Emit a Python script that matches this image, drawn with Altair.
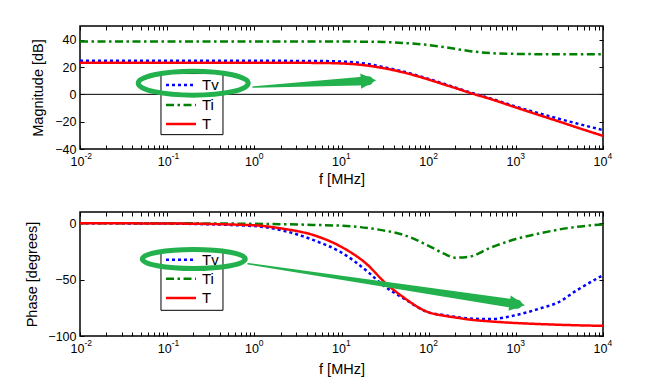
import altair as alt
import pandas as pd

# ---------------- data ----------------
FREQ = [0.01, 0.1, 1, 2, 5, 10, 20, 30, 50, 100, 150, 200, 300, 500,
        1000, 2000, 3000, 5000, 10000]  # MHz

MAG_TV = [24.6, 24.6, 24.6, 24.5, 24.4, 24.0, 22.2, 20.0, 16.8, 11.3, 7.7,
          5.1, 1.4, -2.8, -9.0, -14.5, -17.6, -21.3, -26.2]
MAG_TI = [38.6, 38.6, 38.6, 38.6, 38.6, 38.6, 38.5, 38.3, 37.6, 36.1, 34.6,
          33.3, 31.6, 30.2, 29.6, 29.4, 29.4, 29.3, 29.3]
MAG_T = [23.2, 23.2, 23.2, 23.1, 23.0, 22.6, 21.0, 19.2, 16.2, 10.8, 7.2,
         4.7, 1.0, -3.2, -9.6, -15.9, -19.5, -24.2, -30.4]

PH_TV = [0, -0.3, -2.5, -6, -15.5, -26, -43, -55, -66, -79, -81.5, -83,
         -84.5, -85, -81.5, -75, -70.5, -59.5, -46]
PH_TI = [0, 0, -0.5, -0.8, -1.5, -2.2, -4.2, -6.3, -10, -20, -27, -30.5,
         -29.5, -22, -14, -8.5, -5.8, -3.2, -1]
PH_T = [0, -0.2, -1.8, -4.5, -11, -21, -37, -51, -65, -79, -82, -83.5,
        -85.5, -87, -88.5, -89.5, -90, -90.5, -91]

SERIES = ["Tv", "Ti", "T"]
COLORS = ["#0000ff", "#008000", "#ff0000"]
DASHES = [[3, 3], [8, 3.5, 2.5, 3.5], [1, 0]]

X_MAJOR = [0.01, 0.1, 1, 10, 100, 1000, 10000]
X_EXP = ["-2", "-1", "0", "1", "2", "3", "4"]
X_MINOR = [m * d for d in [0.01, 0.1, 1, 10, 100, 1000] for m in range(2, 10)]
X_TICKS = X_MAJOR + X_MINOR
MAG_TICKS = [-40, -20, 0, 20, 40]
PH_TICKS = [-100, -50, 0]

# annotation anchors (in data units: MHz, dB / degrees)
LEG_X = [0.0849, 0.4368]          # legend box left / right
LEG_LINE_X = [0.0970, 0.2141]     # sample line start / end
LEG_TEXT_X = 0.2509
MAG_LEG_BOX = [15.2, -29.5]
MAG_LEG_ROWS = [6.8, -7.8, -21.7]
PH_LEG_BOX = [-24.6, -77.2]
PH_LEG_ROWS = [-32.3, -49.2, -66.3]

GREEN = "#22B14C"
MAG_ELLIPSE = (0.199, 8.15)
PH_ELLIPSE = (0.202, -31.7)
MAG_ARROW_F = [0.965, 20.4]
MAG_ARROW_V = [5.37, 9.98]
MAG_HEAD = (20.4, 9.98)
PH_ARROW_F = [0.846, 1039]
PH_ARROW_V = [-35.9, -71.8]
PH_HEAD = (1039, -71.8)

# ---------------- helpers ----------------
FONT = "Liberation Sans"
TICK = 4
LABEL_SIZE = 12.5
TITLE_SIZE = 14.5


def is_major(v):
    return f"abs(datum.value - {v}) < {v * 1e-6}"


base_expr = " : ".join(f"{is_major(v)} ? '10'" for v in X_MAJOR) + " : ''"
exp_expr = " : ".join(f"{is_major(v)} ? '{e}'" for v, e in zip(X_MAJOR, X_EXP)) + " : ''"

x_scale = alt.Scale(type="log", domain=[0.01, 10000], nice=False)
color_scale = alt.Scale(domain=SERIES, range=COLORS)
dash_scale = alt.Scale(domain=SERIES, range=DASHES)


def bottom_axis(title_pad):
    return alt.Axis(orient="bottom", values=X_TICKS, labelExpr=base_expr,
                    offset=-TICK, tickSize=TICK, domain=False, grid=False,
                    title="f [MHz]", labelFlush=False, labelOverlap=False,
                    labelAlign="right", labelBaseline="alphabetic",
                    labelOffset=4, labelPadding=16, titlePadding=title_pad)


def exp_axis():
    return alt.Axis(orient="bottom", values=X_MAJOR, labelExpr=exp_expr,
                    offset=-TICK, tickSize=TICK, tickOpacity=0, domain=False,
                    grid=False, title=None, labelFlush=False, labelOverlap=False,
                    labelAlign="left", labelBaseline="alphabetic",
                    labelOffset=4, labelPadding=9, labelFontSize=8.5)


def top_axis():
    return alt.Axis(orient="top", values=X_TICKS, labels=False, offset=-TICK,
                    tickSize=TICK, domain=False, grid=False, title=None)


def left_axis(title, vals, tp):
    return alt.Axis(orient="left", values=vals, offset=-TICK, tickSize=TICK,
                    domain=False, grid=False, title=title, labelPadding=4,
                    titlePadding=tp)


def right_axis(vals):
    return alt.Axis(orient="right", values=vals, labels=False, offset=-TICK,
                    tickSize=TICK, domain=False, grid=False, title=None)


def panel(vals, yscale, yticks, ytitle, tp, box, rows, ell, ell_size, ell_ratio,
          arrow_f, arrow_v, head, head_angle, zero_line, h, xtp):
    curves = pd.DataFrame({
        "f": FREQ * 3,
        "v": vals[0] + vals[1] + vals[2],
        "series": sum([[s] * len(FREQ) for s in SERIES], []),
    })
    layers = []
    if zero_line:
        layers.append(
            alt.Chart(pd.DataFrame({"v": [0]})).mark_rule(color="black", strokeWidth=1)
            .encode(y=alt.Y("v:Q", scale=yscale, axis=None))
        )
    layers.append(
        alt.Chart(curves).mark_line(strokeWidth=2.5, interpolate="monotone")
        .encode(
            x=alt.X("f:Q", scale=x_scale, axis=bottom_axis(xtp)),
            y=alt.Y("v:Q", scale=yscale, axis=left_axis(ytitle, yticks, tp)),
            color=alt.Color("series:N", scale=color_scale, legend=None),
            strokeDash=alt.StrokeDash("series:N", scale=dash_scale, legend=None),
            detail="series:N",
        )
    )
    box_df = pd.DataFrame({"x0": [LEG_X[0]], "x1": [LEG_X[1]],
                           "y0": [box[0]], "y1": [box[1]]})
    layers.append(
        alt.Chart(box_df).mark_rect(fill="white", stroke="black", strokeWidth=1)
        .encode(
            x=alt.X("x0:Q", scale=x_scale, axis=top_axis()),
            x2="x1:Q",
            y=alt.Y("y0:Q", scale=yscale, axis=right_axis(yticks)),
            y2="y1:Q",
        )
    )
    leg = pd.DataFrame({"series": SERIES, "y": rows,
                        "xa": [LEG_LINE_X[0]] * 3, "xb": [LEG_LINE_X[1]] * 3,
                        "xt": [LEG_TEXT_X] * 3})
    layers.append(
        alt.Chart(leg).mark_rule(strokeWidth=2.5)
        .encode(
            x=alt.X("xa:Q", scale=x_scale, axis=exp_axis()), x2="xb:Q",
            y=alt.Y("y:Q", scale=yscale, axis=None),
            color=alt.Color("series:N", scale=color_scale, legend=None),
            strokeDash=alt.StrokeDash("series:N", scale=dash_scale, legend=None),
        )
    )
    layers.append(
        alt.Chart(leg).mark_text(align="left", baseline="middle", font=FONT,
                                 fontSize=15, color="black")
        .encode(
            x=alt.X("xt:Q", scale=x_scale, axis=None),
            y=alt.Y("y:Q", scale=yscale, axis=None),
            text="series:N",
        )
    )
    ell_path = (f"M -1 0 A 1 {ell_ratio} 0 1 0 1 0 "
                f"A 1 {ell_ratio} 0 1 0 -1 0 Z")
    layers.append(
        alt.Chart(pd.DataFrame({"f": [ell[0]], "v": [ell[1]]}))
        .mark_point(shape=ell_path, size=ell_size, filled=False, stroke=GREEN,
                    strokeWidth=5, opacity=1)
        .encode(
            x=alt.X("f:Q", scale=x_scale, axis=None),
            y=alt.Y("v:Q", scale=yscale, axis=None),
        )
    )
    layers.append(
        alt.Chart(pd.DataFrame({"f": arrow_f, "v": arrow_v, "w": [1.5, 9]}))
        .mark_trail(color=GREEN)
        .encode(
            x=alt.X("f:Q", scale=x_scale, axis=None),
            y=alt.Y("v:Q", scale=yscale, axis=None),
            size=alt.Size("w:Q", scale=None, legend=None),
        )
    )
    layers.append(
        alt.Chart(pd.DataFrame({"f": [head[0]], "v": [head[1]]}))
        .mark_point(shape="M -1 -1 L 1 0 L -1 1 Z", size=240, filled=True,
                    color=GREEN, opacity=1, angle=head_angle)
        .encode(
            x=alt.X("f:Q", scale=x_scale, axis=None),
            y=alt.Y("v:Q", scale=yscale, axis=None),
        )
    )
    return alt.layer(*layers).resolve_axis(x="independent", y="independent") \
        .properties(width=523, height=h)


top = panel([MAG_TV, MAG_TI, MAG_T], alt.Scale(domain=[-40, 50], nice=False, zero=False),
            MAG_TICKS, "Magnitude [dB]", 9, MAG_LEG_BOX, MAG_LEG_ROWS,
            MAG_ELLIPSE, 110 ** 2, 0.218, MAG_ARROW_F, MAG_ARROW_V, MAG_HEAD,
            356.9, True, 123, 5)
bottom = panel([PH_TV, PH_TI, PH_T], alt.Scale(domain=[-100, 10], nice=False, zero=False),
               PH_TICKS, "Phase [degrees]", 8, PH_LEG_BOX, PH_LEG_ROWS,
               PH_ELLIPSE, 103 ** 2, 0.184, PH_ARROW_F, PH_ARROW_V, PH_HEAD,
               8.55, False, 124, 8)

chart = alt.vconcat(top, bottom, spacing=23).resolve_scale(
    x="independent", y="independent", color="independent", strokeDash="independent"
).properties(
    padding={"top": 16, "left": 16, "right": 5, "bottom": 5},
    background="white",
).configure_view(
    stroke="black", strokeWidth=1.5
).configure_axis(
    labelFont=FONT, titleFont=FONT, labelFontSize=LABEL_SIZE, titleFontSize=TITLE_SIZE,
    labelColor="black", titleColor="black", titleFontWeight="normal",
    tickColor="black", tickWidth=1,
)

chart.save("out.html", embed_options={"renderer": "svg", "actions": False})
